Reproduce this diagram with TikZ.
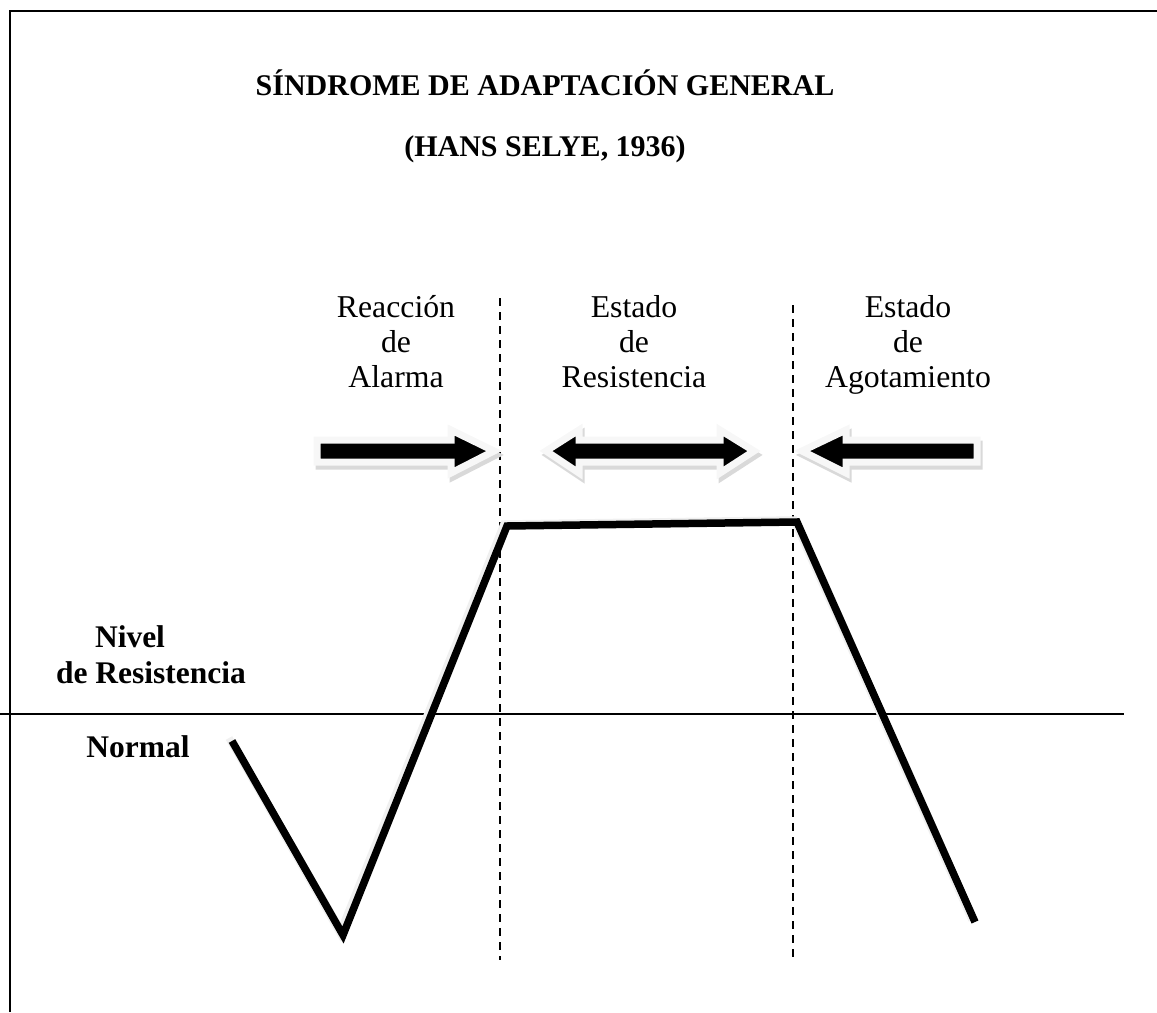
\documentclass[tikz,border=0pt]{standalone}
\usepackage{fontspec}
\setmainfont{Liberation Serif}
\usetikzlibrary{positioning}

\begin{document}
\begin{tikzpicture}[x=.4pt,y=-.4pt,
	lbl/.style={font=\fontsize{12.7}{14}\selectfont,align=center,inner sep=0pt,anchor=north},
	blbl/.style={font=\bfseries\fontsize{12.6}{14}\selectfont,inner sep=0pt,anchor=base},
	tit/.style={font=\bfseries\fontsize{12}{14}\selectfont,inner sep=0pt,anchor=base},
	fase/.style={black,line width=.8pt,dash pattern=on 3.2pt off 2.4pt},
	flecha/.style={fill=black,draw=gray!6,line width=2.8pt,line join=miter},
	sombra/.style={fill=gray!30,draw=gray!30,line width=2.8pt,line join=miter},
	curva/.style={line width=3pt,line join=miter}]

	\useasboundingbox (0,0) rectangle (1157,1012);
	%marco
	\draw[line width=1.1pt] (10,1012) -- (10,11) -- (1157,11);

	%titulo
	\node[tit] (titulo) at (545,96) {SÍNDROME DE ADAPTACIÓN GENERAL};
	\node[tit] (autor) at (545,157) {(HANS SELYE, 1936)};

	%fases
	\node[lbl] (alarma) at (396,295) {Reacción\\de\\Alarma};
	\node[lbl] (resist) at (634,295) {Estado\\de\\Resistencia};
	\node[lbl] (agota) at (908,295) {Estado\\de\\Agotamiento};

	\draw[fase] (500,298) -- (500,960);
	\draw[fase] (793,305) -- (793,962);

	%nivel normal
	\draw[line width=.7pt] (0,714) -- (1124,714);
	\node[blbl] (nivel) at (130,647) {Nivel};
	\node[blbl] (nivelres) at (151,683) {de Resistencia};
	\node[blbl] (normal) at (138,757) {Normal};

	%curva de resistencia
	\draw[curva,gray!12] (229,738) -- (340,933) -- (504,524) -- (794,520) -- (972,920);
	\draw[curva] (232,741) -- (343,935) -- (507,526) -- (797,522) -- (975,922);

	%flechas (sombra primero)
	\begin{scope}[shift={(2,4)}]
	\draw[sombra] (317,440) -- (451,440) -- (451,430) -- (494,451) -- (451,473) -- (451,462) -- (317,462) -- cycle;
	\draw[sombra] (546,451) -- (579,430) -- (579,440) -- (720,440) -- (720,430) -- (754,451) -- (720,473) -- (720,462) -- (579,462) -- (579,473) -- cycle;
	\draw[sombra] (802,451) -- (846,430) -- (846,440) -- (977,440) -- (977,462) -- (846,462) -- (846,473) -- cycle;
	\end{scope}
	\draw[flecha] (317,440) -- (451,440) -- (451,430) -- (494,451) -- (451,473) -- (451,462) -- (317,462) -- cycle;
	\draw[flecha] (546,451) -- (579,430) -- (579,440) -- (720,440) -- (720,430) -- (754,451) -- (720,473) -- (720,462) -- (579,462) -- (579,473) -- cycle;
	\draw[flecha] (802,451) -- (846,430) -- (846,440) -- (977,440) -- (977,462) -- (846,462) -- (846,473) -- cycle;

\end{tikzpicture}
\end{document}
